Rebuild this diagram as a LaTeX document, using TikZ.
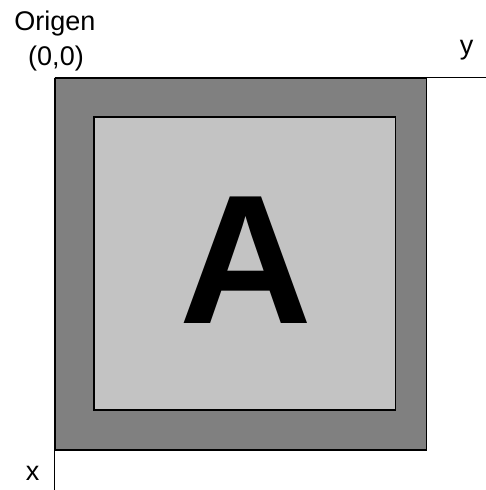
\documentclass[tikz,border=0pt]{standalone}
\usepackage{fontspec}
\setmainfont{Liberation Sans}
\usepackage{xcolor}
\definecolor{ink}{HTML}{000000}
\definecolor{framec}{HTML}{808080}
\definecolor{panelc}{HTML}{C3C3C3}
\usetikzlibrary{positioning}

\begin{document}
\begin{tikzpicture}[x=1pt,y=-1pt,every node/.style={font=\fontsize{27}{32}\selectfont,inner sep=0pt}]
\tikzstyle{box}=[draw=ink,line width=1.6pt,anchor=north west]
\tikzstyle{axis}=[draw=ink,line width=1.6pt]
\useasboundingbox[fill=white] (0,0) rectangle (486,490);
% squares
\node[box,fill=framec,minimum width=371pt,minimum height=371.5pt] (outer) at (54.5,77.5) {};
\node[box,fill=panelc,minimum width=301.5pt,minimum height=293pt] (inner) at (93,116) {};
\node[font=\fontsize{184}{200}\selectfont\bfseries,anchor=base] (letter) at (245.5,323) {A};
% axes
\coordinate (yend) at (486,77.5);
\coordinate (xend) at (54.5,490);
\draw[axis] (outer.north west)--(yend);
\draw[axis] (outer.north west)--(xend);
% labels
\node[anchor=base] (origen) at (55,30) {Origen};
\node[anchor=base] (origin) at (56,65) {(0,0)};
\node[anchor=base] (ylabel) at (466.5,54) {y};
\node[anchor=base] (xlabel) at (32.5,480) {x};
\end{tikzpicture}
\end{document}
